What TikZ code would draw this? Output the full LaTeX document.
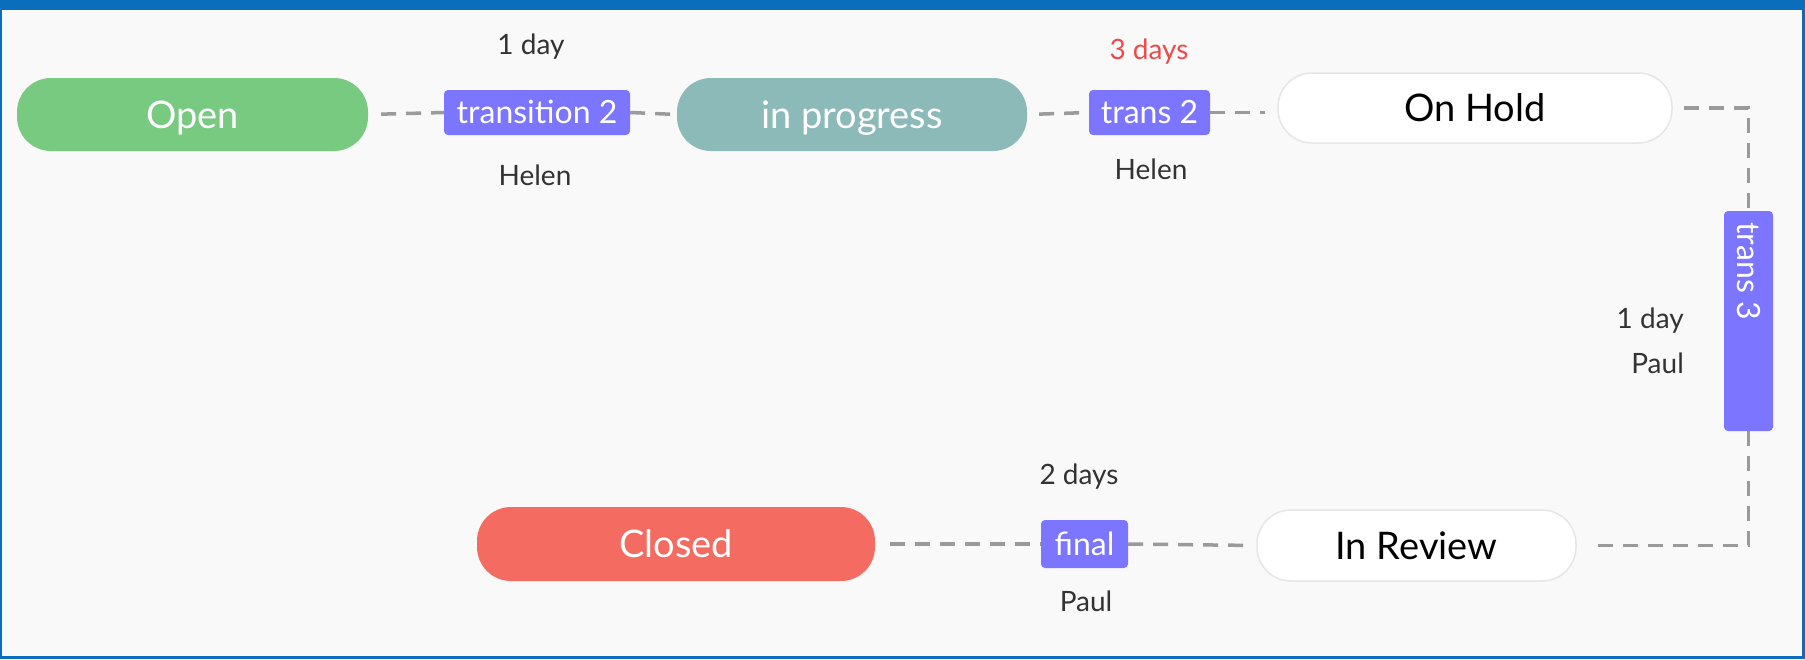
\documentclass[tikz,border=0pt]{standalone}
\usepackage{fontspec}
\setmainfont{Lato}
\definecolor{cbg}{HTML}{F9F9F9}
\definecolor{cblue}{HTML}{0A6EBD}
\definecolor{cgreen}{HTML}{78CA80}
\definecolor{cteal}{HTML}{8BBAB8}
\definecolor{cpurple}{HTML}{7B75FF}
\definecolor{csalmon}{HTML}{F46B62}
\definecolor{cred}{HTML}{EE4B4B}
\definecolor{cdash}{HTML}{9A9A9A}
\definecolor{cedge}{HTML}{E6E6E6}
\definecolor{ctext}{HTML}{333333}
\begin{document}
\begin{tikzpicture}[x=1pt,y=-1pt,
  pill/.style={rounded corners=34pt, inner sep=0pt, text=white,
    text height=27pt, text depth=0pt,
    font=\fontsize{38}{44}\selectfont},
  whitepill/.style={pill, fill=white, draw=cedge, line width=1.5pt, text=black},
  tbox/.style={fill=cpurple, rounded corners=4pt, inner sep=0pt, text=white,
    minimum height=45pt, text height=23pt, text depth=1pt,
    font=\fontsize{32}{36}\selectfont},
  lbl/.style={text=ctext, inner sep=0pt, font=\fontsize{28}{32}\selectfont},
  conn/.style={draw=cdash, line width=3.5pt, dash pattern=on 15pt off 10pt}]
\useasboundingbox (0,0) rectangle (1805,659);
\fill[cbg] (0,0) rectangle (1805,659);
\fill[cblue] (0,0) rectangle (1805,10);
\fill[cblue] (0,0) rectangle (2,659);
\fill[cblue] (1802,0) rectangle (1805,659);
\fill[cblue] (0,656) rectangle (1805,659);

% states
\node[pill, fill=cgreen, minimum width=351pt, minimum height=73pt] (open) at (192.5,114.5) {Open};
\node[pill, fill=cteal, minimum width=350pt, minimum height=73pt] (prog) at (852,114.5) {in progress};
\node[whitepill, minimum width=394pt, minimum height=70pt] (hold) at (1475,108) {On Hold};
\node[whitepill, minimum width=319pt, minimum height=71pt] (review) at (1416.5,545.5) {In Review};
\node[pill, fill=csalmon, minimum width=398pt, minimum height=74pt] (closed) at (676,544) {Closed};

% transitions
\node[tbox, minimum width=186pt] (t1) at (537,112.5) {transition 2};
\node[tbox, minimum width=121pt] (t2) at (1149.5,112.5) {trans 2};
\node[tbox, minimum width=49pt, minimum height=220pt] (t3) at (1748.5,321) {};
\node[text=white, inner sep=0pt, rotate=-90, font=\fontsize{32}{36}\selectfont] (t3txt) at (1748.5,271) {trans 3};
\node[tbox, minimum width=87pt, minimum height=48pt] (fin) at (1084.5,544) {final};

% labels
\node[lbl] (l1a) at (531,47) {1 day};
\node[lbl] (l1b) at (535,175) {Helen};
\node[lbl, text=cred] (l2a) at (1149,52) {3 days};
\node[lbl] (l2b) at (1151,169) {Helen};
\node[lbl, anchor=east] (l3a) at (1684,321) {1 day};
\node[lbl, anchor=east] (l3b) at (1684,363) {Paul};
\node[lbl] (l4a) at (1079,477) {2 days};
\node[lbl] (l4b) at (1086,601) {Paul};

% connectors
\draw[conn, shorten <=13pt] (open.east) -- (t1.west);
\draw[conn, shorten >=3pt] (t1.east) -- (prog.west);
\draw[conn, shorten <=12pt] (prog.east) -- (t2.west);
\draw[conn, shorten >=12pt] (t2.east) -- (t2.east -| hold.west);
\draw[conn, shorten <=11pt] (hold.east) -| (t3.north);
\draw[conn, shorten >=13pt] (t3.south) |- (review.east);
\draw[conn, shorten >=11pt] (fin.east) -- (review.west);
\draw[conn, shorten <=15pt] (closed.east) -- (fin.west);
\end{tikzpicture}
\end{document}
